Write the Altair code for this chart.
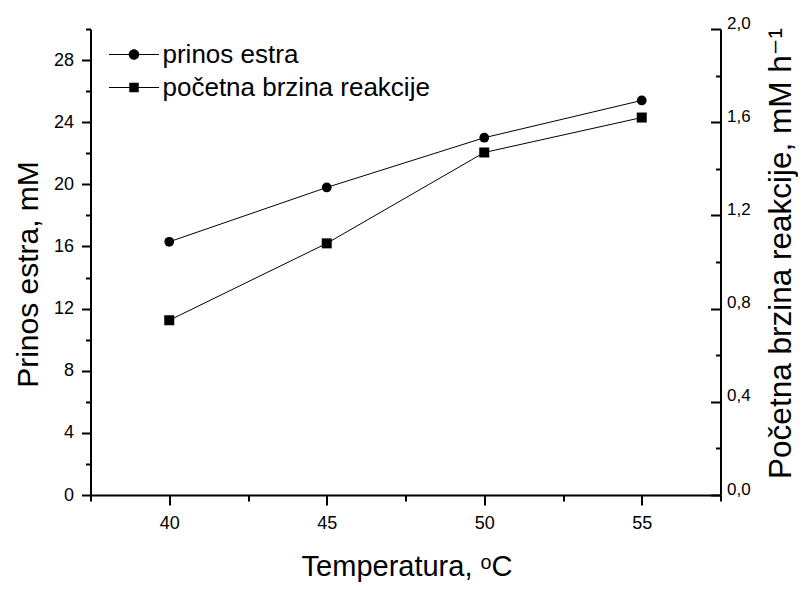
import altair as alt
import pandas as pd

# ---- data ----
temps = [40, 45, 50, 55]
prinos = [16.3, 19.8, 23.0, 25.4]          # Prinos estra, mM (left axis)
brzina = [0.75, 1.08, 1.47, 1.62]          # Početna brzina reakcije, mM h-1 (right axis)
series_names = ["prinos estra", "početna brzina reakcije"]

x_ticks = [37.5, 40, 42.5, 45, 47.5, 50, 52.5, 55, 57.5]
left_ticks = [0, 2, 4, 6, 8, 10, 12, 14, 16, 18, 20, 22, 24, 26, 28, 30]
right_ticks = [0.0, 0.2, 0.4, 0.6, 0.8, 1.0, 1.2, 1.4, 1.6, 1.8, 2.0]

df = pd.DataFrame({"t": temps, "prinos": prinos, "brzina": brzina})
leg_df = pd.DataFrame({"t": [temps[0], temps[0]], "prinos": [prinos[0], prinos[0]],
                       "series": series_names})

FONT = "Liberation Sans, Arial, DejaVu Sans"

x_enc = alt.X(
    "t:Q",
    scale=alt.Scale(domain=[37.5, 57.5], nice=False, zero=False),
    axis=alt.Axis(
        values=x_ticks,
        labelExpr="datum.value % 5 === 0 ? datum.label : ''",
        tickSize={"condition": {"test": "datum.value % 5 === 0", "value": 10}, "value": 6},
        tickWidth=2, tickColor="black",
        domainWidth=2, domainColor="black",
        labelFont=FONT, labelFontSize=18, labelColor="black", labelPadding=9,
        grid=False,
        title="Temperatura, ᵒC",
        titleFont=FONT, titleFontSize=29, titleFontWeight="normal", titleColor="black",
        titleX=316, titleY=80, titleAlign="center", titleBaseline="alphabetic",
        titleAnchor="middle",
    ),
)

left_scale = alt.Scale(domain=[0, 30], nice=False, zero=True)
right_scale = alt.Scale(domain=[0, 2], nice=False, zero=True)

left_axis = alt.Axis(
    orient="left",
    values=left_ticks,
    labelExpr="datum.value % 4 === 0 ? datum.label : ''",
    tickSize={"condition": {"test": "datum.value % 4 === 0", "value": 9}, "value": 5},
    tickWidth=2, tickColor="black",
    domainWidth=2, domainColor="black",
    labelFont=FONT, labelFontSize=18, labelColor="black", labelPadding=8,
    grid=False,
    title="Prinos estra, mM",
    titleFont=FONT, titleFontSize=30, titleFontWeight="normal", titleColor="black",
    titleAngle=270, titleX=-53, titleY=245, titleAlign="center", titleBaseline="alphabetic",
)

right_axis = alt.Axis(
    orient="right",
    values=right_ticks,
    labelExpr="round(datum.value * 10) % 4 === 0 ? replace(format(datum.value, '.1f'), '.', ',') : ''",
    ticks=False, tickSize=0,
    domainWidth=2, domainColor="black",
    labelFont=FONT, labelFontSize=17, labelColor="black", labelPadding=6,
    labelBaseline="alphabetic", labelOffset=-1,
    grid=False,
    title="Početna brzina reakcije, mM h⁻¹",
    titleFont=FONT, titleFontSize=31.5, titleFontWeight="normal", titleColor="black",
    titleAngle=270, titleX=70, titleY=224, titleAlign="center", titleBaseline="alphabetic",
)

# inward ticks of the right axis (a left-oriented axis moved to the right edge)
right_ticks_axis = alt.Axis(
    orient="left",
    offset=-630,
    values=right_ticks,
    labels=False, domain=False, grid=False, title=None,
    tickSize={"condition": {"test": "round(datum.value * 10) % 4 === 0", "value": 10}, "value": 5},
    tickWidth=2, tickColor="black",
)

base = alt.Chart(df)

l_line = base.mark_line(color="black", strokeWidth=1).encode(
    x=x_enc, y=alt.Y("prinos:Q", scale=left_scale, axis=left_axis))
l_pts = base.mark_point(shape="circle", filled=True, color="black", opacity=1, size=95).encode(
    x=x_enc, y=alt.Y("prinos:Q", scale=left_scale, axis=None))
r_line = base.mark_line(color="black", strokeWidth=1).encode(
    x=x_enc, y=alt.Y("brzina:Q", scale=right_scale, axis=right_axis))
r_pts = base.mark_point(shape="square", filled=True, color="black", opacity=1, size=100).encode(
    x=x_enc, y=alt.Y("brzina:Q", scale=right_scale, axis=right_ticks_axis))

# legend glyphs: a thin filled bar (the line) plus the marker
circ_path = ("M-1,-0.022H1V0.022H-1Z"
             "M0.21,0A0.21,0.21,0,1,1,-0.21,0A0.21,0.21,0,1,1,0.21,0Z")
sq_path = ("M-1,-0.022H1V0.022H-1Z"
           "M-0.19,-0.19H0.19V0.19H-0.19Z")

legend_layer = alt.Chart(leg_df).mark_point(
    filled=True, fill="black", stroke="black", strokeWidth=1, opacity=0
).encode(
    x=x_enc,
    y=alt.Y("prinos:Q", scale=left_scale, axis=None),
    shape=alt.Shape(
        "series:N",
        scale=alt.Scale(domain=series_names, range=[circ_path, sq_path]),
        legend=alt.Legend(
            title=None, orient="none", legendX=18.5, legendY=12.5,
            symbolSize=2500, symbolStrokeWidth=0, symbolFillColor="black",
            symbolStrokeColor="black", symbolOpacity=1,
            labelFont=FONT, labelFontSize=26, labelColor="black", labelOffset=3.5,
            labelLimit=500, clipHeight=26, rowPadding=7, padding=0,
        ),
    ),
)

chart = (
    alt.layer(l_line, l_pts, r_line, r_pts, legend_layer)
    .resolve_scale(y="independent")
    .properties(
        width=630, height=466,
        autosize=alt.AutoSizeParams(type="none"),
        padding={"left": 82.5, "top": 21, "right": 77.5, "bottom": 87},
        background="white",
    )
    .configure_view(stroke=None)
)

chart.save("out.html", embed_options={"renderer": "svg", "actions": False})
